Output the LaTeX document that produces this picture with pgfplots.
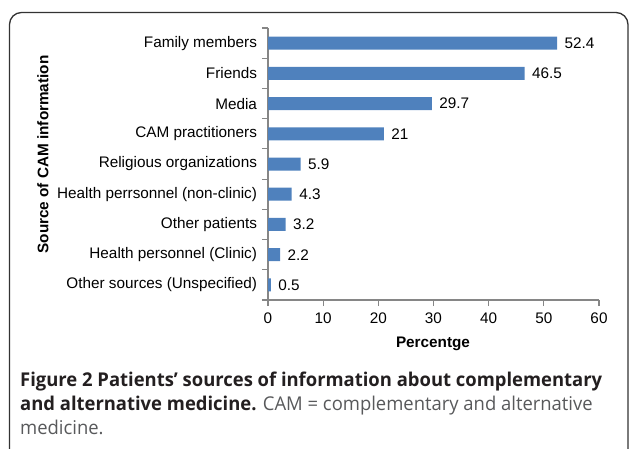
\documentclass[border=0pt]{standalone}
\usepackage{pgfplots}
\pgfplotsset{compat=1.18}
\usepackage{fontspec}
\setmainfont{Liberation Sans}
\newfontfamily\capfont{Open Sans}
\definecolor{barblue}{HTML}{4F81BD}
\definecolor{axgray}{HTML}{868686}
\definecolor{capdark}{HTML}{231F20}
\definecolor{capgray}{HTML}{58595B}
\newlength\lineone
\newcommand\lab{\fontsize{15.3}{18}\selectfont}
\newcommand\capf{\capfont\fontsize{19}{24}\selectfont}
\begin{document}%
\settowidth{\lineone}{\capf\bfseries Figure 2 Patients’ sources of information about complementary}%
\pgfmathsetmacro\capsx{582/\lineone}%
\begin{tikzpicture}
\path[use as bounding box] (0,0) rectangle (629pt,448pt);
\draw[line width=1.3pt, color=black!80, rounded corners=12pt] (9.5pt,-20pt) -- (9.5pt,435.5pt) -- (628pt,435.5pt) -- (628pt,-20pt);
\begin{axis}[
  at={(268pt,148pt)}, anchor=south west,
  width=331pt, height=272pt, scale only axis,
  xbar, bar width=13pt,
  xmin=0, xmax=60, ymin=-0.5, ymax=8.5,
  enlargelimits=false,
  xtick={0,10,...,60},
  ytick={0,...,8},
  yticklabels={Other sources (Unspecified), Health personnel (Clinic), Other patients, Health perrsonnel (non-clinic), Religious organizations, CAM practitioners, Media, Friends, Family members},
  minor ytick={-0.5,0.5,...,8.5},
  axis x line*=bottom, axis y line*=left,
  axis line style={axgray, line width=1.2pt, -},
  tick style={axgray, line width=1.2pt},
  major tick length=6pt, minor tick length=6pt,
  tick align=outside,
  major y tick style={draw=none},
  yticklabel style={font=\lab, black, xshift=-1.5pt},
  xticklabel style={font=\lab, black, yshift=-3pt},
  /pgf/number format/assume math mode=true,
  nodes near coords,
  nodes near coords style={font=\lab, black, anchor=west, xshift=4pt},
]
\addplot[fill=barblue, draw=none] coordinates {(0.5,0) (2.2,1) (3.2,2) (4.3,3) (5.9,4) (21,5) (29.7,6) (46.5,7) (52.4,8)};
\end{axis}
\node[rotate=90, font=\lab\bfseries] at (43pt,293.5pt) {Source of CAM information};
\node[font=\lab\bfseries] at (433pt,104pt) {Percentge};
\node[anchor=base west, inner sep=0pt] at (20pt,62pt) {\scalebox{\capsx}[1]{\capf\color{capdark}\bfseries Figure 2 Patients’ sources of information about complementary}};
\node[anchor=base west, inner sep=0pt] at (20pt,38pt) {\scalebox{\capsx}[1]{\capf{\color{capdark}\bfseries and alternative medicine.} \color{capgray}CAM = complementary and alternative}};
\node[anchor=base west, inner sep=0pt] at (20pt,14pt) {\scalebox{\capsx}[1]{\capf\color{capgray}medicine.}};
\end{tikzpicture}%
\end{document}
